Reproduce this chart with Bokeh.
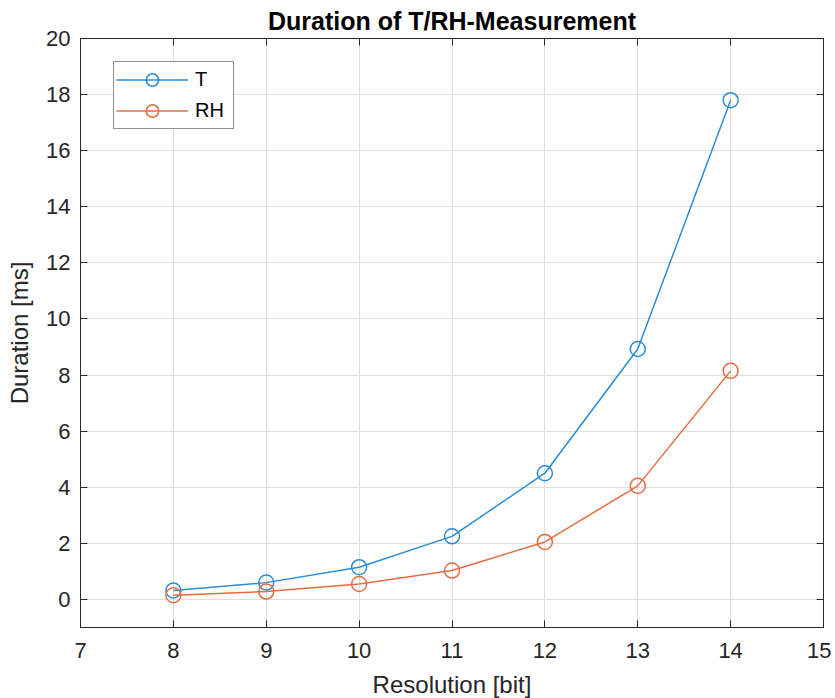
from bokeh.plotting import figure
from bokeh.models import (LinearAxis, Legend, LegendItem, FixedTicker, Range1d,
                          CustomJSTickFormatter)
from bokeh.embed import file_html
from bokeh.resources import INLINE

resolution_bits = [8, 9, 10, 11, 12, 13, 14]
duration_T = [0.32, 0.60, 1.15, 2.25, 4.50, 8.93, 17.80]
duration_RH = [0.15, 0.28, 0.55, 1.03, 2.05, 4.05, 8.15]
x_ticks = [7, 8, 9, 10, 11, 12, 13, 14, 15]
y_ticks = [0, 2, 4, 6, 8, 10, 12, 14, 16, 18, 20]

FONT = "Liberation Sans"
AX = "#262626"
C_T = "#2A8CD5"
C_RH = "#E66C42"

p = figure(frame_width=743, frame_height=589,
           x_range=Range1d(7, 15), y_range=Range1d(-1, 20),
           output_backend="svg", toolbar_location=None,
           min_border_left=80, min_border_right=8,
           min_border_top=38, min_border_bottom=67,
           title="Duration of T/RH-Measurement")

p.title.align = "center"
p.title.text_font = FONT
p.title.text_font_size = "25px"
p.title.text_font_style = "bold"
p.title.text_color = "#000000"
p.title.standoff = 8

p.background_fill_color = "white"
p.border_fill_color = "white"
p.outline_line_color = AX
p.outline_line_width = 1

for ax in (p.xaxis[0], p.yaxis[0]):
    ax.major_label_text_font = FONT
    ax.major_label_text_font_size = "22px"
    ax.major_label_text_color = AX
    ax.axis_line_color = AX
    ax.major_tick_line_color = AX
    ax.major_tick_in = 7
    ax.major_tick_out = 0
    ax.minor_tick_line_color = None
    ax.axis_label_text_font = FONT
    ax.axis_label_text_font_size = "24px"
    ax.axis_label_text_font_style = "normal"
    ax.axis_label_text_color = AX

p.xaxis[0].ticker = FixedTicker(ticks=x_ticks)
p.yaxis[0].ticker = FixedTicker(ticks=y_ticks)
p.xaxis[0].axis_label = "Resolution [bit]"
p.yaxis[0].axis_label = "Duration [ms]"
p.xaxis[0].major_label_standoff = 15
p.yaxis[0].major_label_standoff = 10
p.xaxis[0].axis_label_standoff = 10
p.yaxis[0].axis_label_standoff = 10

for loc, ticks in (("above", x_ticks), ("right", y_ticks)):
    a = LinearAxis(ticker=FixedTicker(ticks=ticks),
                   formatter=CustomJSTickFormatter(code="return ''"))
    a.major_label_standoff = 0
    a.axis_line_color = AX
    a.major_tick_line_color = AX
    a.major_tick_in = 7
    a.major_tick_out = 0
    a.minor_tick_line_color = None
    p.add_layout(a, loc)

p.grid.grid_line_color = "#dedede"
p.grid.grid_line_alpha = 1.0
p.xgrid.ticker = FixedTicker(ticks=x_ticks)
p.ygrid.ticker = FixedTicker(ticks=y_ticks)

lt = p.line(resolution_bits, duration_T, line_color=C_T, line_width=1.5)
st = p.scatter(resolution_bits, duration_T, marker="circle", size=15,
               fill_color=None, line_color=C_T, line_width=1.5)
lr = p.line(resolution_bits, duration_RH, line_color=C_RH, line_width=1.5)
sr = p.scatter(resolution_bits, duration_RH, marker="circle", size=15,
               fill_color=None, line_color=C_RH, line_width=1.5)

legend = Legend(items=[LegendItem(label="T", renderers=[lt, st]),
                       LegendItem(label="RH", renderers=[lr, sr])],
                location=(33, 498))
legend.label_text_font = FONT
legend.label_text_font_size = "20px"
legend.label_text_color = "#000000"
legend.glyph_width = 72
legend.glyph_height = 31
legend.label_height = 22
legend.label_width = 36
legend.label_standoff = 7
legend.spacing = -6
legend.padding = 2
legend.margin = 0
legend.border_line_color = AX
legend.border_line_width = 1
legend.background_fill_color = "white"
legend.background_fill_alpha = 1.0
p.add_layout(legend, "center")

open("out.html", "w").write(file_html(p, INLINE))
